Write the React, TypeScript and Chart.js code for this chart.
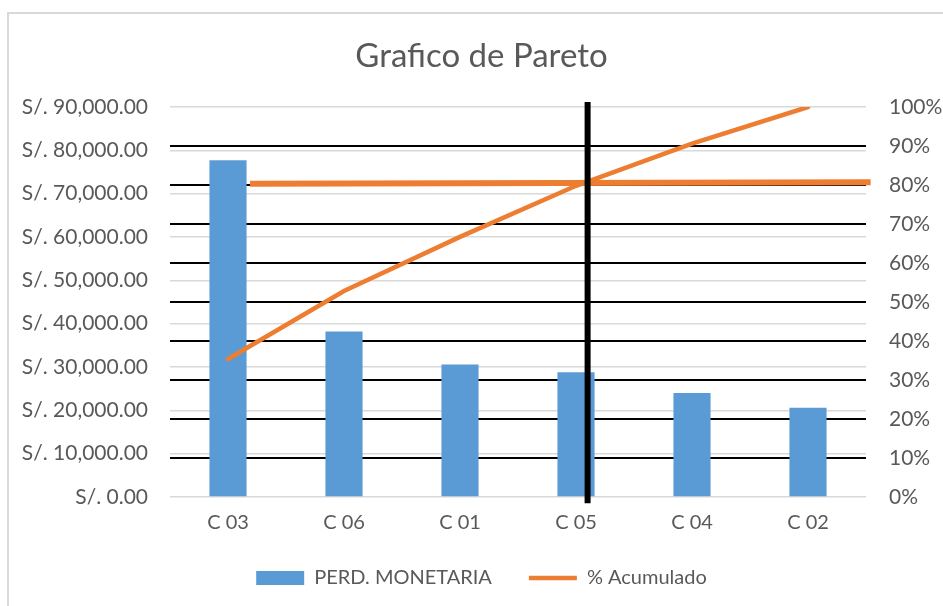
import React, { useEffect, useRef } from "react";
import { Chart, registerables } from "chart.js";

Chart.register(...registerables);

const categories = ["C 03", "C 06", "C 01", "C 05", "C 04", "C 02"];
const perdMonetaria = [77700, 38200, 30600, 28800, 24000, 20600];
const acumulado = [35.4, 52.8, 66.7, 79.8, 90.6, 100];
const leftTickLabels = [
  "S/. 0.00",
  "S/. 10,000.00",
  "S/. 20,000.00",
  "S/. 30,000.00",
  "S/. 40,000.00",
  "S/. 50,000.00",
  "S/. 60,000.00",
  "S/. 70,000.00",
  "S/. 80,000.00",
  "S/. 90,000.00",
];
const rightTickLabels = ["0%", "10%", "20%", "30%", "40%", "50%", "60%", "70%", "80%", "90%", "100%"];
// 80% reference line (x in category index units, y in %)
const linea80 = [
  { x: 0.19, y: 80.3 },
  { x: 5.54, y: 80.7 },
];
// vertical cut line at C 05
const lineaCorte = [
  { x: 3.1, y: 101.3 },
  { x: 3.1, y: -1.6 },
];

const FONT = "Lato, 'Open Sans', sans-serif";
const TXT = "#595959";

export default function App() {
  const ref = useRef<HTMLCanvasElement>(null);
  useEffect(() => {
    if (!ref.current) return;
    const chart = new Chart(ref.current, {
      type: "bar",
      data: {
        labels: categories,
        datasets: [
          {
            type: "bar",
            label: "PERD. MONETARIA",
            data: perdMonetaria,
            backgroundColor: "#5B9BD5",
            borderWidth: 0,
            barPercentage: 0.32,
            categoryPercentage: 1,
            grouped: false,
            yAxisID: "y",
            xAxisID: "x",
            order: 4,
            pointStyle: "rect",
          } as any,
          {
            type: "line",
            label: "% Acumulado",
            data: acumulado,
            borderColor: "#ED7D31",
            backgroundColor: "#ED7D31",
            borderWidth: 4.5,
            borderCapStyle: "round",
            pointRadius: 0,
            tension: 0,
            yAxisID: "y1",
            xAxisID: "x",
            order: 3,
            pointStyle: "line",
          } as any,
          {
            type: "line",
            label: "80%",
            data: linea80,
            borderColor: "#ED7D31",
            borderWidth: 6,
            pointRadius: 0,
            yAxisID: "y1",
            xAxisID: "x2",
            clip: false,
            order: 2,
          } as any,
          {
            type: "line",
            label: "corte",
            data: lineaCorte,
            borderColor: "#000000",
            borderWidth: 6,
            pointRadius: 0,
            yAxisID: "y1",
            xAxisID: "x2",
            clip: false,
            order: 1,
          } as any,
        ],
      },
      options: {
        responsive: false,
        devicePixelRatio: 1,
        animation: false,
        layout: { padding: { top: 0, bottom: 8, left: 0, right: 0 } },
        plugins: {
          tooltip: { enabled: false },
          title: {
            display: true,
            text: "Grafico de Pareto",
            color: TXT,
            font: { family: FONT, size: 33, weight: "normal", lineHeight: 1.2 },
            padding: { top: 23, bottom: 30.4 },
          },
          legend: {
            position: "bottom",
            labels: {
              color: TXT,
              font: { family: FONT, size: 20 },
              usePointStyle: true,
              pointStyleWidth: 48,
              boxHeight: 14,
              padding: 37,
              filter: (item: any) => item.datasetIndex < 2,
              sort: (a: any, b: any) => a.datasetIndex - b.datasetIndex,
            },
          },
        },
        scales: {
          x: {
            type: "category",
            grid: { display: false, drawTicks: false },
            border: { display: false },
            ticks: { color: TXT, font: { family: FONT, size: 20 }, padding: 14 },
            afterFit: (s: any) => {
              s.height = 34;
            },
          },
          x2: {
            type: "linear",
            display: false,
            offset: false,
            grid: { offset: false },
            min: -0.5,
            max: 5.5,
          },
          y: {
            position: "left",
            min: 0,
            max: 90000,
            grid: { color: "#D9D9D9", lineWidth: 1.5, drawTicks: false },
            border: { display: false },
            ticks: {
              stepSize: 10000,
              color: TXT,
              font: { family: FONT, size: 21 },
              padding: 22,
              callback: (_v: any, i: number) => leftTickLabels[i],
            },
            afterFit: (s: any) => {
              s.width = 161;
            },
          },
          y1: {
            position: "right",
            min: 0,
            max: 100,
            grid: {
              drawOnChartArea: true,
              drawTicks: false,
              lineWidth: 2,
              color: (ctx: any) =>
                ctx.tick && ctx.tick.value > 0 && ctx.tick.value < 100 ? "#000000" : "rgba(0,0,0,0)",
            },
            border: { display: false },
            ticks: {
              stepSize: 10,
              color: TXT,
              font: { family: FONT, size: 21 },
              padding: 23,
              callback: (_v: any, i: number) => rightTickLabels[i],
            },
            afterFit: (s: any) => {
              s.width = 88;
            },
          },
        },
      } as any,
    });
    return () => chart.destroy();
  }, []);

  return (
    <div
      style={{
        position: "absolute",
        left: 7,
        top: 12,
        width: 936,
        height: 594,
        overflow: "hidden",
        boxSizing: "border-box",
        borderTop: "2px solid #D9D9D9",
        borderLeft: "2px solid #D9D9D9",
        background: "#ffffff",
      }}
    >
      <canvas ref={ref} width={945} height={592} style={{ display: "block", width: 945, height: 592 }} />
    </div>
  );
}
